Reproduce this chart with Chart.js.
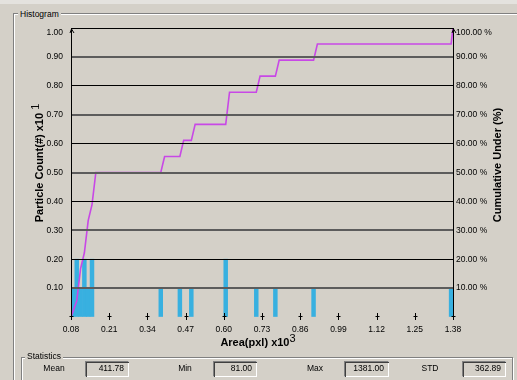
<!DOCTYPE html>
<html>
<head>
<meta charset="utf-8">
<script src="https://cdn.jsdelivr.net/npm/chart.js@4/dist/chart.umd.min.js"></script>
<style>
  html, body { margin: 0; padding: 0; }
  body {
    width: 517px; height: 380px; position: relative; overflow: hidden;
    background: #d4d0c8; font-family: "Liberation Sans", Arial, sans-serif; color: #000;
  }
  .strip { position: absolute; left: 0; top: 0; width: 517px; height: 4px; background: #e4e2de; }
  .etch-dark { position: absolute; border: 1px solid #808080; }
  .etch-light { position: absolute; border: 1px solid #ffffff; }
  .legend { position: absolute; background: #d4d0c8; font-size: 8.5px; line-height: 10px; padding: 0 2px; }
  canvas { position: absolute; left: 0; top: 0; }
  .title { position: absolute; font-weight: bold; font-size: 11px; line-height: 12px; white-space: nowrap; text-align: center; }
  .title .sup { font-weight: normal; position: relative; top: -4px; font-size: 11px; }
  .vt { width: 200px; transform: rotate(-90deg); transform-origin: 50% 50%; }
  .stat-name { position: absolute; font-size: 8.5px; line-height: 10px; text-align: center; width: 40px; }
  .stat-box {
    position: absolute; height: 14px; box-sizing: border-box;
    border-top: 1px solid #808080; border-left: 1px solid #808080;
    border-bottom: 1px solid #ffffff; border-right: 1px solid #ffffff;
    font-size: 8.5px; line-height: 13px; text-align: right; padding-right: 4px;
  }
  .stat-box::before {
    content: ""; position: absolute; left: 0; top: 0; right: -1px; bottom: -1px;
    border-top: 1px solid #404040; border-left: 1px solid #404040; pointer-events: none;
  }
</style>
</head>
<body>
<div class="strip"></div>

<!-- Histogram group box -->
<div class="etch-light" style="left:14px; top:14px; width:520px; height:380px;"></div>
<div class="etch-dark" style="left:13px; top:13px; width:520px; height:380px;"></div>
<div class="legend" style="left:18px; top:9px;">Histogram</div>

<canvas id="chart" width="517" height="380"></canvas>

<div class="title vt" style="left:-61px; top:157px;">Particle Count(#) x10 <span class="sup">1</span></div>
<div class="title vt" style="left:397px; top:159px;">Cumulative Under (%)</div>
<div class="title" style="left:158px; top:336px; width:200px;">Area(pxl) x10<span class="sup">3</span></div>

<!-- Statistics group box -->
<div class="etch-light" style="left:22px; top:358px; width:490px; height:40px;"></div>
<div class="etch-dark" style="left:21px; top:357px; width:490px; height:40px;"></div>
<div class="legend" style="left:25px; top:351px;">Statistics</div>
<div id="stats"></div>

<script>
// Histogram bins (area in pxl): 100 bins of equal width starting at the minimum area
const binStart = 81;
const binWidth = 13;
const binCount = 100;

// Occupied bins and their particle counts
const barBins   = [0, 1, 2, 3, 4, 5, 23, 28, 31, 40, 48, 53, 63, 99];
const barCounts = [1, 2, 1, 2, 1, 2, 1, 1, 1, 2, 1, 1, 1, 1];

// Axis ticks
const xTickValues = [81, 211, 341, 471, 601, 731, 861, 991, 1121, 1251, 1381];
const xTickLabels = ['0.08', '0.21', '0.34', '0.47', '0.60', '0.73', '0.86', '0.99', '1.12', '1.25', '1.38'];
const countTickLabels = ['0.10', '0.20', '0.30', '0.40', '0.50', '0.60', '0.70', '0.80', '0.90', '1.00'];
const pctTickLabels = ['10.00 %', '20.00 %', '30.00 %', '40.00 %', '50.00 %', '60.00 %', '70.00 %', '80.00 %', '90.00 %', '100.00 %'];

// Summary statistics
const statNames  = ['Mean', 'Min', 'Max', 'STD'];
const statValues = ['411.78', '81.00', '1381.00', '362.89'];

// ---- statistics row layout ----
const statSlots = [
  { label: 34,  box: 85,  w: 44 },
  { label: 165, box: 213, w: 44 },
  { label: 295, box: 344, w: 45 },
  { label: 410, box: 462, w: 44 }
];
const statsEl = document.getElementById('stats');
statNames.forEach((name, i) => {
  const s = statSlots[i];
  const lab = document.createElement('div');
  lab.className = 'stat-name';
  lab.style.left = s.label + 'px';
  lab.style.top = '363px';
  lab.textContent = name;
  statsEl.appendChild(lab);
  const box = document.createElement('div');
  box.className = 'stat-box';
  box.style.left = s.box + 'px';
  box.style.top = '361px';
  box.style.width = s.w + 'px';
  box.style.height = '16px';
  box.textContent = statValues[i];
  statsEl.appendChild(box);
});

// ---- datasets built from the bins ----
const binLimit = binStart + binWidth * binCount;
const countsByBin = new Array(binCount).fill(0);
barBins.forEach((b, i) => { countsByBin[b] = barCounts[i]; });
const totalCount = barCounts.reduce((a, b) => a + b, 0);

const barPoints = barBins.map((b, i) => ({ x: binStart + binWidth * (b + 0.5), y: barCounts[i] }));

const cumPoints = [{ x: binStart, y: 0 }];
let running = 0;
countsByBin.forEach((c, i) => {
  running += c;
  cumPoints.push({ x: Math.min(binStart + binWidth * (i + 1.5), binLimit), y: running / totalCount * 100 });
});

const FONT = '"Liberation Sans", Arial, sans-serif';
const tickFont = { family: FONT, size: 8.5 };

// tick marks crossing the area axis and small arrow heads on the value axes
const axisMarks = {
  id: 'axisMarks',
  afterDraw(chart) {
    const { ctx, chartArea, scales } = chart;
    ctx.save();
    ctx.strokeStyle = '#000';
    ctx.lineWidth = 1;
    const yb = Math.round(chartArea.bottom);
    scales.x.ticks.forEach(t => {
      const px = Math.round(scales.x.getPixelForValue(t.value)) + 0.5;
      ctx.beginPath();
      ctx.moveTo(px, yb - 4); ctx.lineTo(px, yb + 3);
      ctx.moveTo(px - 2, yb - 0.5); ctx.lineTo(px + 2, yb - 0.5);
      ctx.stroke();
    });
    [chartArea.left, chartArea.right].forEach(x => {
      const px = Math.round(x) + 0.5;
      const top = chartArea.top + 1;
      ctx.beginPath();
      ctx.moveTo(px - 1.5, top + 4); ctx.lineTo(px, top); ctx.lineTo(px + 2.5, top + 4);
      ctx.stroke();
    });
    ctx.restore();
  }
};

new Chart(document.getElementById('chart'), {
  type: 'bar',
  data: {
    datasets: [
      {
        type: 'line',
        data: cumPoints,
        xAxisID: 'x',
        yAxisID: 'y1',
        borderColor: '#c848e6',
        borderWidth: 1.6,
        pointRadius: 0,
        tension: 0,
        order: 0
      },
      {
        type: 'bar',
        data: barPoints,
        xAxisID: 'x',
        yAxisID: 'y',
        backgroundColor: '#38b0e0',
        borderWidth: 0,
        categoryPercentage: 1,
        barPercentage: 1,
        order: 1
      }
    ]
  },
  options: {
    responsive: false,
    animation: false,
    devicePixelRatio: 1,
    layout: { padding: { top: 28, left: 0, right: 0, bottom: 0 } },
    plugins: { legend: { display: false }, tooltip: { enabled: false } },
    scales: {
      x: {
        type: 'linear',
        min: binStart,
        max: binLimit,
        offset: false,
        afterBuildTicks: s => { s.ticks = xTickValues.map(v => ({ value: v })); },
        afterFit: s => { s.height = 63; },
        grid: { display: false },
        border: { display: false },
        ticks: {
          autoSkip: false, maxRotation: 0, padding: 0,
          color: '#000', font: tickFont,
          callback: (v, i) => xTickLabels[i]
        }
      },
      y: {
        position: 'left',
        min: 0,
        max: 10,
        afterFit: s => { s.width = 71; },
        border: { display: true, color: '#000', width: 1, z: 1 },
        grid: {
          z: 1,
          drawTicks: false,
          color: c => c.tick.value === 0 ? 'rgba(0,0,0,0)' : (c.tick.value % 2 === 1 ? '#5c5c5c' : '#000'),
          lineWidth: c => (c.tick.value % 2 === 1 ? 2 : 1)
        },
        ticks: {
          stepSize: 1, padding: 8, color: '#000', font: tickFont,
          callback: v => v === 0 ? '' : (v === 10 ? ['', countTickLabels[9]] : countTickLabels[v - 1])
        }
      },
      y1: {
        position: 'right',
        min: 0,
        max: 100,
        afterFit: s => { s.width = 64; },
        border: { display: true, color: '#000', width: 1, z: 1 },
        grid: { drawOnChartArea: false, drawTicks: false },
        ticks: {
          stepSize: 10, padding: 3, color: '#000', font: tickFont,
          callback: v => v === 0 ? '' : (v === 100 ? ['', pctTickLabels[9]] : pctTickLabels[v / 10 - 1])
        }
      }
    }
  },
  plugins: [axisMarks]
});
</script>
</body>
</html>
